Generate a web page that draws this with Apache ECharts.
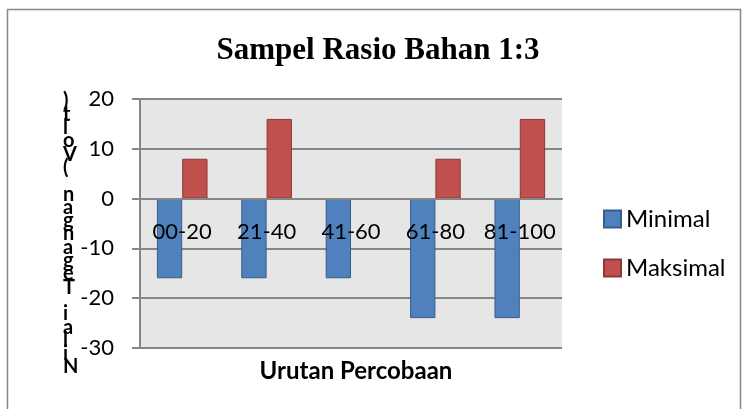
<!DOCTYPE html>
<html>
<head>
<meta charset="utf-8">
<script src="https://cdn.jsdelivr.net/npm/echarts@6/dist/echarts.min.js"></script>
<style>
html,body{margin:0;padding:0;background:#fff;}
#c{width:745px;height:409px;}
</style>
</head>
<body>
<div id="c"></div>
<script>
var categories = ["00-20", "21-40", "41-60", "61-80", "81-100"];
var minimalValues = [-16, -16, -16, -24, -24];
var maksimalValues = [8, 16, 0, 8, 16];
var yMin = -30, yMax = 20, yStep = 10;
var titleText = "Sampel Rasio Bahan 1:3";
var xTitle = "Urutan Percobaan";
var yTitle = "Nilai Tegangan (Volt)";

var W = 745, H = 409;
var gridL = 140, gridR = 183, gridT = 99, gridB = 61;
var gridH = H - gridT - gridB;
var zeroOffset = -gridH * (0 - yMin) / (yMax - yMin);

var chart = echarts.init(document.getElementById('c'), null, {renderer: 'canvas'});
var font = "Lato, 'Liberation Sans', sans-serif";
var option = {
  animation: false,
  backgroundColor: '#fff',
  title: [{
    text: titleText,
    left: 373,
    textAlign: 'center',
    top: 30,
    textStyle: {fontFamily: "'Liberation Serif', 'Times New Roman', serif", fontWeight: 'bold', fontSize: 31, color: '#000'}
  }, {
    text: xTitle,
    left: 351,
    textAlign: 'center',
    top: 354,
    textStyle: {fontFamily: font, fontWeight: 'bold', fontSize: 24, color: '#000'}
  }],
  legend: {
    orient: 'vertical',
    left: 603,
    top: 207,
    itemWidth: 17,
    itemHeight: 17,
    itemGap: 25,
    icon: 'rect',
    padding: 0,
    textStyle: {fontFamily: font, fontSize: 24, color: '#000'},
    data: ['Minimal', 'Maksimal']
  },
  grid: {left: gridL, right: gridR, top: gridT, bottom: gridB, show: true, backgroundColor: '#e6e6e6', borderWidth: 0},
  xAxis: {
    type: 'category',
    data: categories,
    position: 'bottom',
    offset: zeroOffset,
    axisLine: {onZero: false, lineStyle: {color: '#868686', width: 2}},
    axisTick: {show: false},
    axisLabel: {interval: 0, hideOverlap: false, margin: 22, fontFamily: font, fontSize: 22, color: '#000'},
    z: 10
  },
  yAxis: {
    type: 'value',
    min: yMin, max: yMax, interval: yStep,
    axisLine: {show: true, lineStyle: {color: '#868686', width: 2}},
    axisTick: {show: true, inside: false, length: 8, lineStyle: {color: '#868686', width: 2}},
    axisLabel: {margin: 26, fontFamily: font, fontSize: 22, color: '#000'},
    splitLine: {show: true, lineStyle: {color: '#868686', width: 2}}
  },
  series: [{
    name: 'Minimal',
    type: 'bar',
    data: minimalValues,
    barGap: '0%',
    barCategoryGap: '40%',
    itemStyle: {color: '#4f81bd', borderColor: '#385d8a', borderWidth: 1},
    z: 2
  }, {
    name: 'Maksimal',
    type: 'bar',
    data: maksimalValues,
    itemStyle: {color: '#c0504d', borderColor: '#8c3836', borderWidth: 1},
    z: 2
  }],
  graphic: [{
    type: 'rect',
    shape: {x: 7.5, y: 9.5, width: 733, height: 410},
    style: {fill: 'none', stroke: '#868686', lineWidth: 1.5},
    z: -1
  }, {
    type: 'text',
    left: 63,
    top: 91,
    style: {
      text: yTitle.split('').reverse().join('\n'),
      fontFamily: font,
      fontWeight: 'bold',
      fontSize: 20,
      lineHeight: 13.3,
      fill: '#000',
      align: 'center'
    }
  }]
};
chart.setOption(option);
</script>
</body>
</html>
